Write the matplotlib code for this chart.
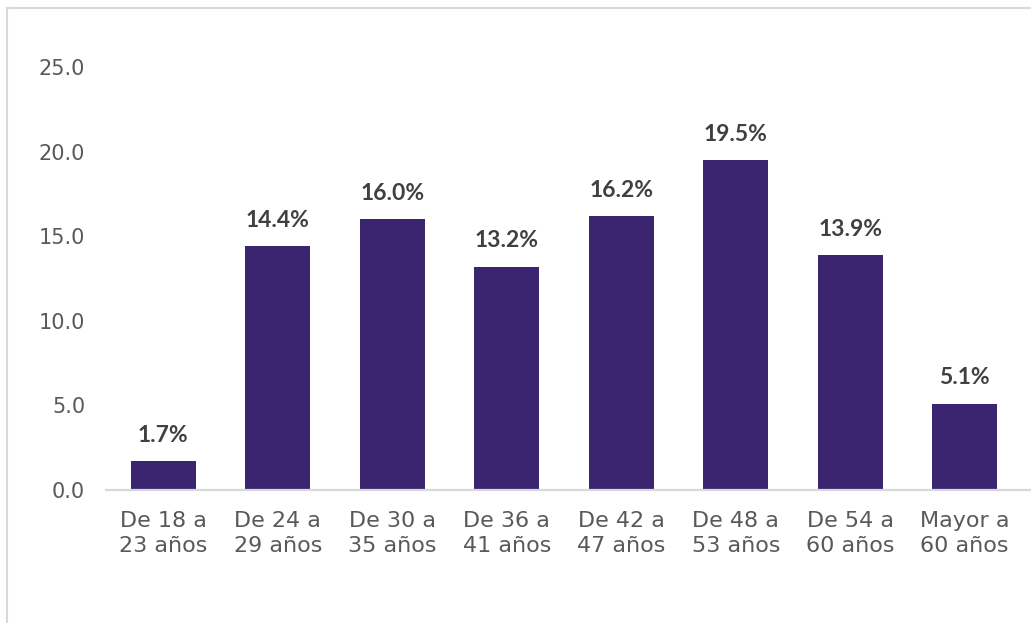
import numpy as np
import matplotlib.pyplot as plt
from matplotlib.lines import Line2D

categories = ["De 18 a\n23 años", "De 24 a\n29 años", "De 30 a\n35 años", "De 36 a\n41 años",
              "De 42 a\n47 años", "De 48 a\n53 años", "De 54 a\n60 años", "Mayor a\n60 años"]
values = [1.7, 14.4, 16.0, 13.2, 16.2, 19.5, 13.9, 5.1]
yticks = [0, 5, 10, 15, 20, 25]

bar_color = "#3c2570"
text_gray = "#595959"
label_gray = "#404040"
font = ["DejaVu Sans"]
bold_font = ["Lato", "DejaVu Sans"]

fig = plt.figure(figsize=(10.31, 6.23), dpi=100)
ax = fig.add_axes([106 / 1031, 1 - 490 / 623, 925 / 1031, (490 - 67) / 623])

x = np.arange(len(values))
bars = ax.bar(x, values, width=0.57, color=bar_color, zorder=2)

for xi, v in zip(x, values):
    ax.annotate(f"{v:.1f}%", (xi, v), xytext=(0, 11), textcoords="offset points",
                ha="center", va="bottom", fontsize=16.5, fontweight="bold",
                color=label_gray, family=bold_font)

ax.set_xlim(-0.5, -0.5 + 925 / 114.5)
ax.set_ylim(0, 25)
ax.set_yticks(yticks)
ax.set_yticklabels([f"{t:.1f}" for t in yticks], fontsize=15, color=text_gray, family=font)
ax.set_xticks(x)
ax.set_xticklabels(categories, fontsize=16, color=text_gray, family=font, linespacing=1.35)
ax.tick_params(axis="both", length=0)
ax.tick_params(axis="x", pad=15)
ax.tick_params(axis="y", pad=15)

for s in ["top", "right", "left"]:
    ax.spines[s].set_visible(False)
ax.spines["bottom"].set_color("#d9d9d9")
ax.spines["bottom"].set_linewidth(1.6)

# outer frame (top and left)
fig.add_artist(Line2D([7 / 1031, 7 / 1031], [0, 1 - 8 / 623], color="#d9d9d9", lw=1.5,
                      transform=fig.transFigure))
fig.add_artist(Line2D([7 / 1031, 1], [1 - 8 / 623, 1 - 8 / 623], color="#d9d9d9", lw=1.5,
                      transform=fig.transFigure))

fig.savefig("out.png", dpi=100)
